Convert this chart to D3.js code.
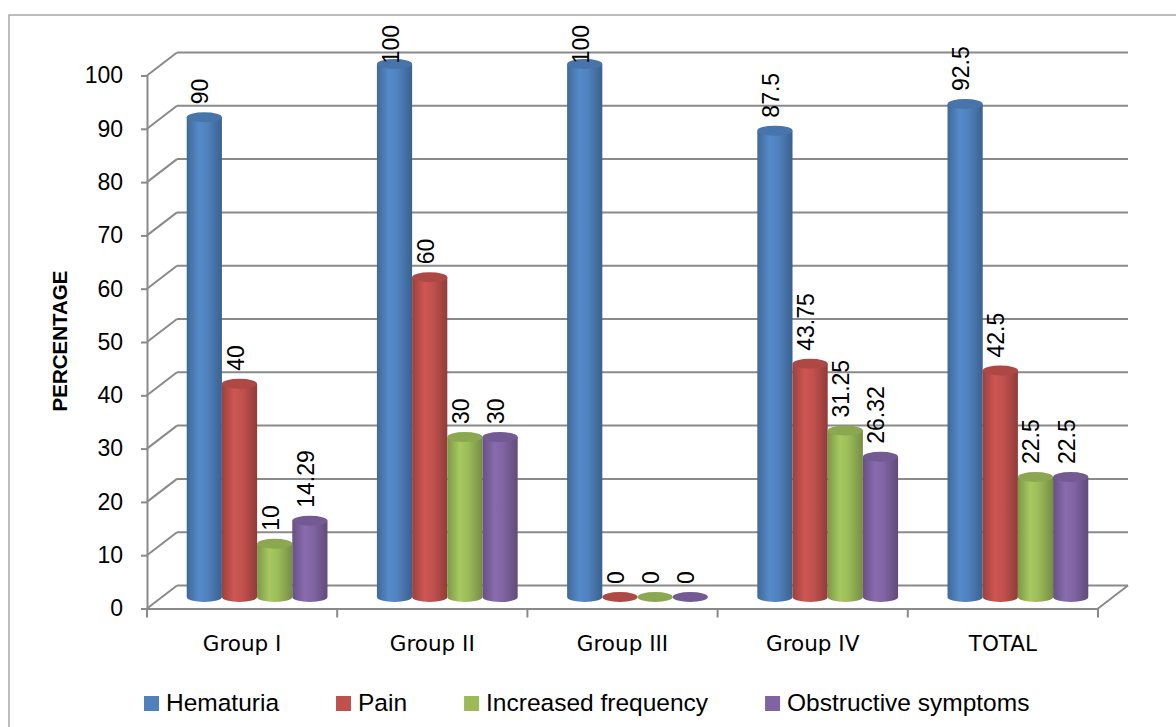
<!DOCTYPE html>
<html>
<head>
<meta charset="utf-8">
<script src="https://cdn.jsdelivr.net/npm/d3@7"></script>
<style>
  html, body { margin: 0; padding: 0; background: #fff; }
  svg { display: block; }
</style>
</head>
<body>
<svg id="chart" width="1176" height="727"></svg>
<script>
// Symptom percentages per patient group
const categories = ["Group I", "Group II", "Group III", "Group IV", "TOTAL"];
const seriesNames = ["Hematuria", "Pain", "Increased frequency", "Obstructive symptoms"];
const hematuria = [90, 100, 100, 87.5, 92.5];
const pain = [40, 60, 0, 43.75, 42.5];
const increasedFrequency = [10, 30, 0, 31.25, 22.5];
const obstructiveSymptoms = [14.29, 30, 0, 26.32, 22.5];
const yTicks = [0, 10, 20, 30, 40, 50, 60, 70, 80, 90, 100];
const seriesColors = ["#4F81BD", "#C0504D", "#9BBB59", "#8064A2"];

const seriesValues = [hematuria, pain, increasedFrequency, obstructiveSymptoms];

const svg = d3.select("#chart");

// 3D depth offset of the back wall relative to the front plane
const DX = 30, DY = -23;
const GRID = "#8a8a8a";
const SANS = "Liberation Sans, Arial, sans-serif";

const x = d3.scaleBand().domain(categories).range([147, 1098]);
const xs = d3.scaleBand().domain(seriesNames)
  .range([x.bandwidth() * 0.13, x.bandwidth() * 0.87]);
const y = d3.scaleLinear().domain([0, 100]).range([608.5, 75.5]);

// chart frame
svg.append("rect").attr("x", 9).attr("y", 15).attr("width", 1300).attr("height", 900)
  .attr("fill", "#fff").attr("stroke", "#a6a6a6").attr("stroke-width", 1.5);

const left = x.range()[0], right = x.range()[1];

// back-wall gridlines and side-wall diagonals
const grid = svg.append("g").attr("stroke", GRID).attr("stroke-width", 2).attr("fill", "none");
yTicks.forEach(t => {
  grid.append("line")
    .attr("x1", left + DX).attr("x2", right + DX)
    .attr("y1", y(t) + DY).attr("y2", y(t) + DY);
  grid.append("line")
    .attr("x1", left).attr("y1", y(t))
    .attr("x2", left + DX).attr("y2", y(t) + DY);
});
// floor right edge
grid.append("line")
  .attr("x1", right).attr("y1", y(0))
  .attr("x2", right + DX).attr("y2", y(0) + DY);

// value axis on the front-left edge
const yAxis = svg.append("g").attr("transform", `translate(${left},0)`)
  .call(d3.axisLeft(y).tickValues(yTicks).tickSize(6).tickSizeOuter(0).tickPadding(18));
yAxis.selectAll("path, line").attr("stroke", GRID).attr("stroke-width", 2);
yAxis.selectAll("text").attr("font-family", SANS)
  .attr("font-size", 23).attr("fill", "#000");

// category axis along the front floor edge
const xAxis = svg.append("g").attr("transform", `translate(0,${y(0)})`)
  .call(d3.axisBottom(x).tickSize(0).tickSizeOuter(0).tickPadding(0));
xAxis.select("path").attr("stroke", GRID).attr("stroke-width", 2);
xAxis.selectAll("text").attr("font-family", "DejaVu Sans, sans-serif")
  .attr("font-size", 21.5).attr("fill", "#000").attr("dy", 0).attr("y", 42);
// boundary ticks between categories
const edges = categories.map(c => x(c)).concat([right]);
svg.append("g").selectAll("line").data(edges).join("line")
  .attr("x1", d => d).attr("x2", d => d)
  .attr("y1", y(0)).attr("y2", y(0) + 9)
  .attr("stroke", GRID).attr("stroke-width", 2);

// axis title
svg.append("text")
  .attr("transform", `translate(67,341) rotate(-90)`)
  .attr("text-anchor", "middle")
  .attr("font-family", SANS)
  .attr("font-weight", "bold").attr("font-size", 20.5)
  .text("PERCENTAGE");

// cylinder shading gradients
const defs = svg.append("defs");
seriesColors.forEach((col, i) => {
  const c = d3.color(col);
  const g = defs.append("linearGradient").attr("id", "cyl" + i)
    .attr("x1", "0%").attr("x2", "100%").attr("y1", "0%").attr("y2", "0%");
  g.append("stop").attr("offset", "0%").attr("stop-color", c.darker(0.6));
  g.append("stop").attr("offset", "35%").attr("stop-color", c.brighter(0.2));
  g.append("stop").attr("offset", "60%").attr("stop-color", c.copy());
  g.append("stop").attr("offset", "100%").attr("stop-color", c.darker(0.8));
});

// cylinders sit halfway into the depth
const MX = DX / 2, MY = DY / 2;
const rx = xs.bandwidth() / 2, ry = 5;

const bars = [];
categories.forEach((cat, ci) => {
  seriesNames.forEach((s, si) => {
    bars.push({ cat, s, si, v: seriesValues[si][ci] });
  });
});

const barG = svg.append("g");
bars.forEach(b => {
  const cx = x(b.cat) + xs(b.s) + rx + MX;
  const yb = y(0) + MY;
  const yt = y(b.v) + MY;
  const g = barG.append("g");
  if (b.v > 0) {
    g.append("path")
      .attr("d", `M${cx - rx},${yt} L${cx - rx},${yb} A${rx},${ry} 0 0 0 ${cx + rx},${yb} L${cx + rx},${yt} Z`)
      .attr("fill", `url(#cyl${b.si})`);
  }
  g.append("ellipse")
    .attr("cx", cx).attr("cy", yt).attr("rx", rx).attr("ry", ry)
    .attr("fill", d3.color(seriesColors[b.si]).darker(0.3));
  b.cx = cx; b.yt = yt;
});

// rotated value labels above each cylinder
const labelG = svg.append("g");
bars.forEach(b => {
  const t = labelG.append("text")
    .attr("font-family", SANS)
    .attr("font-size", 23).attr("fill", "#000")
    .attr("text-anchor", "start").attr("dominant-baseline", "central")
    .text(String(b.v));
  const len = t.node().getComputedTextLength();
  const start = Math.max(b.yt - 13, 25 + len);
  t.attr("transform", `translate(${b.cx - 4},${start}) rotate(-90)`);
});

// legend
const legend = svg.append("g");
let lx = 144;
seriesNames.forEach((s, i) => {
  legend.append("rect").attr("x", lx).attr("y", 696).attr("width", 15).attr("height", 15)
    .attr("fill", seriesColors[i]);
  const t = legend.append("text").attr("x", lx + 22).attr("y", 711)
    .attr("font-family", SANS)
    .attr("font-size", 24.5).attr("fill", "#000").text(s);
  lx += 22 + t.node().getComputedTextLength() + 57;
});
</script>
</body>
</html>
